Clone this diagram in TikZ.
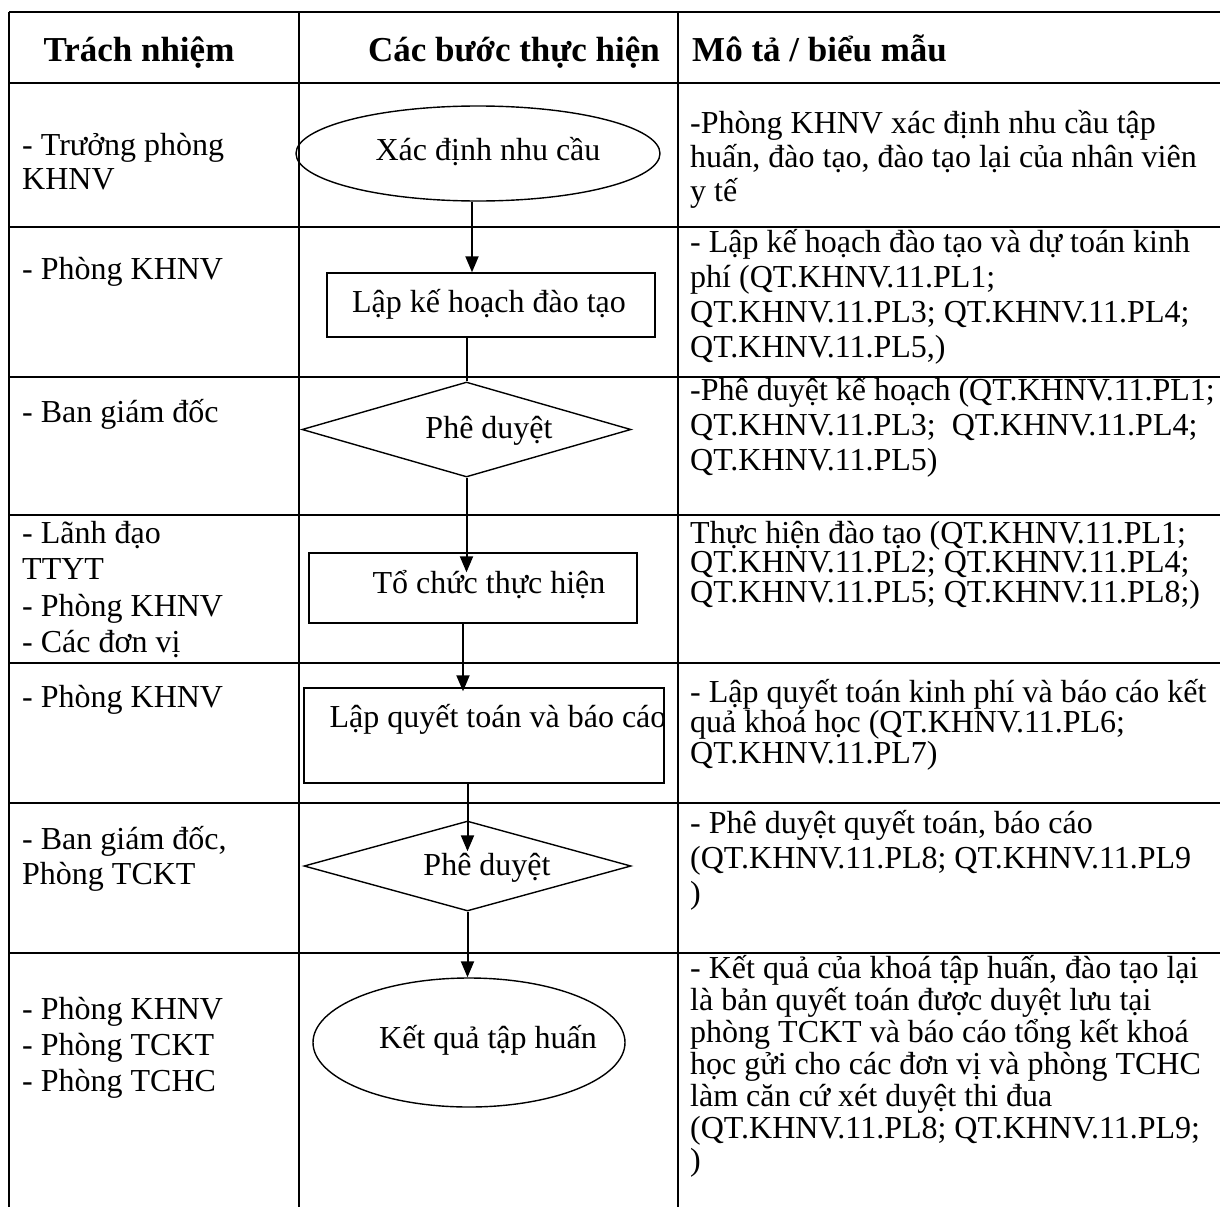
\documentclass[tikz,border=0pt]{standalone}
\usepackage{fontspec}
\setmainfont{Liberation Serif}
\usetikzlibrary{shapes.geometric,arrows.meta,calc}
\begin{document}
\begin{tikzpicture}[x=1pt,y=-1pt,
  tablerule/.style={line width=2pt},
  shapeline/.style={draw, line width=1.4pt, inner sep=0pt},
  ellipsebox/.style={shapeline, ellipse},
  rectbox/.style={shapeline, rectangle},
  diabox/.style={shapeline, diamond},
  conn/.style={line width=2pt},
  arr/.style={conn, -{Triangle[length=16pt,width=13pt]}},
  lskip/.style={font=\fontsize{32}{#1}\selectfont},
  body/.style={lskip=36, inner sep=0pt, align=left, anchor=base west},
  lbl/.style={font=\fontsize{32}{36}\selectfont, inner sep=0pt, anchor=base},
  head/.style={font=\bfseries\fontsize{35}{40}\selectfont, inner sep=0pt, anchor=base},
]
\useasboundingbox (0,0) rectangle (1220,1207);
% table grid
\foreach \yy in {12,83,227,377,515,663,803,953}
  \draw[tablerule] (9,\yy) -- (1220,\yy);
\foreach \xx in {9,299,678}
  \draw[tablerule] (\xx,12) -- (\xx,1207);

% headers
\node[head] (h1) at (139,61) {Trách nhiệm};
\node[head] (h2) at (514,61) {Các bước thực hiện};
\node[head, anchor=base west] (h3) at (692,62) {Mô tả / biểu mẫu};

% flow shapes
\node[ellipsebox, minimum width=364pt, minimum height=95pt] (e1) at (478,153.5) {};
\node[rectbox, minimum width=328pt, minimum height=64pt] (r1) at (491,305) {};
\node[diabox, minimum width=329pt, minimum height=95pt] (d1) at (466.5,429.5) {};
\node[rectbox, minimum width=328pt, minimum height=70pt] (r2) at (473,588) {};
\node[rectbox, minimum width=360pt, minimum height=95pt] (r3) at (484,735.5) {};
\node[diabox, minimum width=327pt, minimum height=90pt] (d2) at (467.5,866) {};
\node[ellipsebox, minimum width=312pt, minimum height=129pt] (e2) at (469,1042.5) {};

% flow labels
\node[lbl] (t1) at (488,160) {Xác định nhu cầu};
\node[lbl] (t2) at (489,312) {Lập kế hoạch đào tạo};
\node[lbl] (t3) at (489,438) {Phê duyệt};
\node[lbl] (t4) at (489,593) {Tổ chức thực hiện};
\node[lbl] (t5) at (498,727) {Lập quyết toán và báo cáo};
\node[lbl] (t6) at (487,875) {Phê duyệt};
\node[lbl] (t7) at (488,1048) {Kết quả tập huấn};

% connectors
\draw[arr] ($(e1.south)+(-6,0)$) -- ($(e1.south |- r1.north)+(-6,0)$);
\draw[conn] (d1.north |- r1.south) -- (d1.north);
\draw[arr] (d1.south) -- ($(d1.south |- r2.north)+(0,20)$);
\draw[arr] ($(r2.south)+(-10,0)$) -- ($(r2.south |- r3.north)+(-10,4)$);
\draw[arr] (d2.north |- r3.south) -- ($(d2.north)+(0,31)$);
\draw[arr] (d2.south) -- (d2.south |- e2.north);

% left column (node base = baseline of last line)
\node[body, lskip=34] (l1) at (22,189) {- Trưởng phòng\\KHNV};
\node[body] (l2) at (22,279) {- Phòng KHNV};
\node[body] (l3) at (22,422) {- Ban giám đốc};
\node[body, lskip=36.5] (l4) at (22,652.5) {- Lãnh đạo\\TTYT\\- Phòng KHNV\\- Các đơn vị};
\node[body] (l5) at (22,707) {- Phòng KHNV};
\node[body, lskip=35] (l6) at (22,884) {- Ban giám đốc,\\Phòng TCKT};
\node[body, lskip=36] (l7) at (22,1091) {- Phòng KHNV\\- Phòng TCKT\\- Phòng TCHC};

% right column
\node[body, lskip=34] (m1) at (690,201) {-Phòng KHNV xác định nhu cầu tập\\huấn, đào tạo, đào tạo lại của nhân viên\\y tế};
\node[body, lskip=35] (m2) at (690,357) {- Lập kế hoạch đào tạo và dự toán kinh\\phí (QT.KHNV.11.PL1;\\QT.KHNV.11.PL3; QT.KHNV.11.PL4;\\QT.KHNV.11.PL5,)};
\node[body, lskip=35] (m3) at (690,470) {-Phê duyệt kế hoạch (QT.KHNV.11.PL1;\\QT.KHNV.11.PL3;~~QT.KHNV.11.PL4;\\QT.KHNV.11.PL5)};
\node[body, lskip=29.5] (m4) at (690,602) {Thực hiện đào tạo (QT.KHNV.11.PL1;\\QT.KHNV.11.PL2; QT.KHNV.11.PL4;\\QT.KHNV.11.PL5; QT.KHNV.11.PL8;)};
\node[body, lskip=29] (m5) at (690,763) {- Lập quyết toán kinh phí và báo cáo kết\\quả khoá học (QT.KHNV.11.PL6;\\QT.KHNV.11.PL7)};
\node[body, lskip=35] (m6) at (690,903) {- Phê duyệt quyết toán, báo cáo\\(QT.KHNV.11.PL8; QT.KHNV.11.PL9\\)};
\node[body, lskip=32] (m7) at (690,1170) {- Kết quả của khoá tập huấn, đào tạo lại\\là bản quyết toán được duyệt lưu tại\\phòng TCKT và báo cáo tổng kết khoá\\học gửi cho các đơn vị và phòng TCHC\\làm căn cứ xét duyệt thi đua\\(QT.KHNV.11.PL8; QT.KHNV.11.PL9;\\)};
\end{tikzpicture}
\end{document}
